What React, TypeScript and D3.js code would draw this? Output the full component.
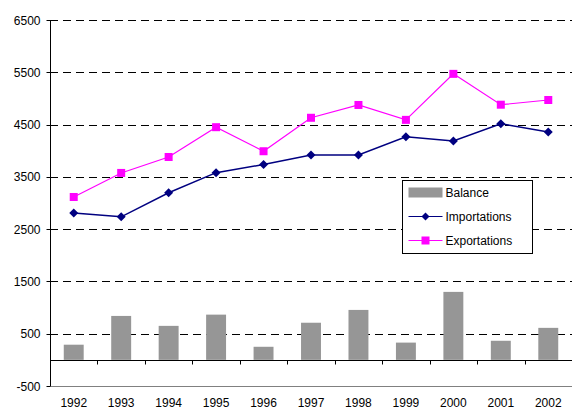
import React, { useRef, useEffect } from "react";
import * as d3 from "d3";

// chart data
const years = ["1992", "1993", "1994", "1995", "1996", "1997", "1998", "1999", "2000", "2001", "2002"];
const balance = [290, 840, 650, 865, 250, 710, 955, 330, 1300, 365, 612];
const importations = [2810, 2735, 3195, 3580, 3735, 3920, 3920, 4265, 4185, 4515, 4360];
const exportations = [3115, 3575, 3880, 4450, 3990, 4630, 4875, 4590, 5470, 4880, 4970];
const yTicks = [-500, 500, 1500, 2500, 3500, 4500, 5500, 6500];

const W = 577;
const H = 410;
const margin = { left: 50, right: 5, top: 20, bottom: 24 };

// square diamond marker
const diamond = (r: number) => `M0,${-r}L${r},0L0,${r}L${-r},0Z`;

function App() {
  const svgRef = useRef<SVGSVGElement>(null);

  useEffect(() => {
    const svg = d3.select(svgRef.current);
    svg.selectAll("*").remove();
    const font = "Arial, 'Liberation Sans', sans-serif";

    const x = d3.scaleBand().domain(years).range([margin.left, W - margin.right]);
    const y = d3.scaleLinear().domain([-500, 6500]).range([H - margin.bottom, margin.top]);

    // gridlines
    svg.append("g")
      .selectAll("line")
      .data(yTicks)
      .join("line")
      .attr("x1", margin.left)
      .attr("x2", W - margin.right)
      .attr("y1", d => Math.round(y(d)) + 0.5)
      .attr("y2", d => Math.round(y(d)) + 0.5)
      .attr("stroke", d => (d === -500 ? "#808080" : "#000"))
      .attr("stroke-dasharray", d => (d === -500 ? null : "8,5"))
      .attr("stroke-width", 1);

    // bars
    const barW = x.bandwidth() * 0.42;
    svg.append("g")
      .selectAll("rect")
      .data(balance)
      .join("rect")
      .attr("x", (d, i) => x(years[i])! + (x.bandwidth() - barW) / 2)
      .attr("width", barW)
      .attr("y", d => y(d))
      .attr("height", d => y(0) - y(d))
      .attr("fill", "#969696");

    // y axis
    const yAxis = svg.append("g").attr("transform", `translate(${margin.left + 0.5},0)`);
    yAxis.append("line")
      .attr("y1", y(6500)).attr("y2", y(-500))
      .attr("stroke", "#000");
    yAxis.selectAll("line.tick")
      .data(yTicks)
      .join("line")
      .attr("class", "tick")
      .attr("x1", -4).attr("x2", 0)
      .attr("y1", d => Math.round(y(d)) + 0.5)
      .attr("y2", d => Math.round(y(d)) + 0.5)
      .attr("stroke", "#000");
    yAxis.selectAll("text")
      .data(yTicks)
      .join("text")
      .attr("x", -10)
      .attr("y", d => y(d) + 4.5)
      .attr("text-anchor", "end")
      .attr("font-family", font)
      .attr("font-size", 12)
      .text(d => String(d));

    // x axis at zero
    const y0 = Math.round(y(0)) + 0.5;
    svg.append("line")
      .attr("x1", margin.left).attr("x2", W - margin.right)
      .attr("y1", y0).attr("y2", y0)
      .attr("stroke", "#000");
    svg.append("g")
      .selectAll("line")
      .data(years.slice(1))
      .join("line")
      .attr("x1", d => Math.round(x(d)!) + 0.5)
      .attr("x2", d => Math.round(x(d)!) + 0.5)
      .attr("y1", y0).attr("y2", y0 + 4)
      .attr("stroke", "#000");
    svg.append("g")
      .selectAll("text")
      .data(years)
      .join("text")
      .attr("x", d => x(d)! + x.bandwidth() / 2)
      .attr("y", H - 3)
      .attr("text-anchor", "middle")
      .attr("font-family", font)
      .attr("font-size", 12)
      .text(d => d);

    const cx = (i: number) => x(years[i])! + x.bandwidth() / 2;
    const line = d3.line<number>().x((d, i) => cx(i)).y(d => y(d));

    // importations
    svg.append("path")
      .datum(importations)
      .attr("d", line)
      .attr("fill", "none")
      .attr("stroke", "#000080")
      .attr("stroke-width", 1.5);
    svg.append("g")
      .selectAll("path")
      .data(importations)
      .join("path")
      .attr("d", diamond(4.5))
      .attr("transform", (d, i) => `translate(${cx(i)},${y(d)})`)
      .attr("fill", "#000080");

    // exportations
    svg.append("path")
      .datum(exportations)
      .attr("d", line)
      .attr("fill", "none")
      .attr("stroke", "#FF00FF")
      .attr("stroke-width", 1.2);
    svg.append("g")
      .selectAll("rect")
      .data(exportations)
      .join("rect")
      .attr("x", (d, i) => cx(i) - 4)
      .attr("y", d => y(d) - 4)
      .attr("width", 8)
      .attr("height", 8)
      .attr("fill", "#FF00FF");

    // legend
    const lg = svg.append("g").attr("transform", "translate(402.5,180.5)");
    lg.append("rect")
      .attr("width", 130).attr("height", 73)
      .attr("fill", "#fff").attr("stroke", "#000");
    lg.append("rect")
      .attr("x", 6).attr("y", 7).attr("width", 34).attr("height", 10)
      .attr("fill", "#969696");
    lg.append("line")
      .attr("x1", 6).attr("x2", 40).attr("y1", 36).attr("y2", 36)
      .attr("stroke", "#000080").attr("stroke-width", 1.2);
    lg.append("path")
      .attr("d", diamond(4))
      .attr("transform", "translate(23,36)")
      .attr("fill", "#000080");
    lg.append("line")
      .attr("x1", 6).attr("x2", 40).attr("y1", 60).attr("y2", 60)
      .attr("stroke", "#FF00FF").attr("stroke-width", 1.2);
    lg.append("rect")
      .attr("x", 19).attr("y", 56).attr("width", 8).attr("height", 8)
      .attr("fill", "#FF00FF");
    const labels = ["Balance", "Importations", "Exportations"];
    lg.selectAll("text.lbl")
      .data(labels)
      .join("text")
      .attr("class", "lbl")
      .attr("x", 43)
      .attr("y", (d, i) => 16 + i * 24)
      .attr("font-family", font)
      .attr("font-size", 12)
      .text(d => d);
  }, []);

  return (
    <div style={{ position: "absolute", left: 0, top: 0 }}>
      <svg ref={svgRef} width={W} height={H}></svg>
    </div>
  );
}

export default App;
